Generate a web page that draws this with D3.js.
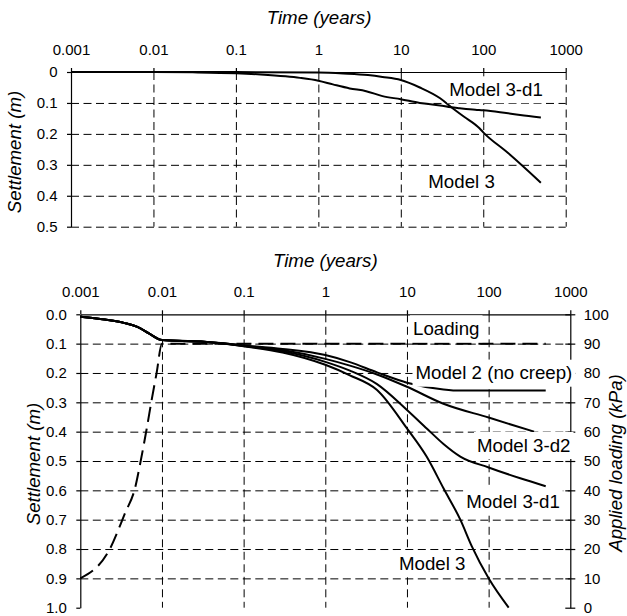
<!DOCTYPE html>
<html><head><meta charset="utf-8">
<script src="https://cdn.jsdelivr.net/npm/d3@7"></script>
<style>
body{margin:0;background:#fff}
svg{display:block;background:#fff}
text{font-family:"Liberation Sans",Arial,Helvetica,sans-serif;fill:#000}
</style>
</head><body>
<svg id="c" width="627" height="616"></svg>
<script>
// ---------- data ----------
const timeTicks = [0.001, 0.01, 0.1, 1, 10, 100, 1000];
const timeLabels = ["0.001", "0.01", "0.1", "1", "10", "100", "1000"];
const topSettleTicks = [0, 0.1, 0.2, 0.3, 0.4, 0.5];
const topSettleLabels = ["0", "0.1", "0.2", "0.3", "0.4", "0.5"];
const botSettleTicks = [0, 0.1, 0.2, 0.3, 0.4, 0.5, 0.6, 0.7, 0.8, 0.9, 1.0];
const botSettleLabels = ["0.0","0.1","0.2","0.3","0.4","0.5","0.6","0.7","0.8","0.9","1.0"];
const loadTicks = [0, 10, 20, 30, 40, 50, 60, 70, 80, 90, 100];

// top chart series
const top3d1T = [0.001, 0.01, 0.03, 0.1, 0.2, 0.4, 0.6, 1, 1.5, 2.4, 3.8, 6, 10, 17, 30, 41, 52, 80, 100, 160, 280, 500];
const top3d1S = [0, 0, 0.001, 0.004, 0.008, 0.014, 0.019, 0.028, 0.04, 0.053, 0.062, 0.078, 0.088, 0.1, 0.108, 0.114, 0.117, 0.122, 0.124, 0.13, 0.139, 0.147];
const top3T = [0.001, 0.1, 1, 2, 4, 6, 10, 17, 30, 41, 58, 90, 100, 200, 500];
const top3S = [0, 0, 0.002, 0.005, 0.01, 0.016, 0.026, 0.05, 0.085, 0.114, 0.144, 0.182, 0.195, 0.262, 0.358];

// bottom chart series
const loadT = [0.001, 0.0023, 0.0035, 0.0047, 0.0054, 0.0065, 0.0075, 0.0086, 0.01, 500];
const loadKPa = [10, 20, 32, 41, 49, 61, 71, 80, 90, 90];
const earlyT = [0.001, 0.002, 0.0035, 0.005, 0.007, 0.01];
const earlyS = [0.008, 0.018, 0.03, 0.043, 0.066, 0.088];
const m2T = [0.03, 0.1, 0.3, 1, 2, 4.3, 10, 28, 45, 500];
const m2S = [0.093, 0.106, 0.118, 0.139, 0.163, 0.198, 0.233, 0.256, 0.26, 0.26];
const m3d2T = [0.03, 0.1, 0.3, 1, 2, 4.3, 10, 28, 100, 360];
const m3d2S = [0.093, 0.107, 0.122, 0.152, 0.175, 0.205, 0.247, 0.305, 0.352, 0.4];
const m3d1T = [0.03, 0.1, 0.3, 1, 2, 4.3, 10, 17.6, 28, 45, 100, 244, 500];
const m3d1S = [0.093, 0.108, 0.126, 0.162, 0.192, 0.238, 0.326, 0.39, 0.442, 0.485, 0.522, 0.559, 0.586];
const m3T = [0.03, 0.1, 0.3, 1, 2, 4.3, 10, 17.4, 28, 45, 62.5, 100, 176];
const m3S = [0.093, 0.109, 0.13, 0.172, 0.208, 0.258, 0.389, 0.485, 0.593, 0.7, 0.792, 0.9, 1.0];

// ---------- drawing ----------
const svg = d3.select("#c");
const FONT = '"Liberation Sans",Arial,Helvetica,sans-serif';
const TICKFS = 15, LABFS = 18.7;

function zip(a, b) { return a.map((v, i) => [v, b[i]]); }

function styleAxis(g) {
  g.attr("font-family", FONT).attr("font-size", TICKFS);
  g.selectAll("text").attr("fill", "#000");
  g.selectAll("line,path").attr("stroke", "#000");
}

function grid(g) {
  g.select(".domain").remove();
  g.selectAll("text").remove();
  g.selectAll("line").attr("stroke", "#000").attr("stroke-width", 1).attr("stroke-dasharray", "8,4.5");
}

function addLabel(g, txt, x, cy, pad) {
  const t = g.append("text").attr("x", x).attr("y", cy).attr("dy", "0.35em")
    .attr("font-size", LABFS).text(txt);
  const w = t.node().getComputedTextLength();
  g.insert("rect", function () { return t.node(); })
    .attr("x", x - pad).attr("y", cy - 13).attr("width", w + 2 * pad).attr("height", 27)
    .attr("fill", "#fff");
}

function axisTitle(x, y, rot, txt) {
  svg.append("text").attr("transform", `translate(${x},${y}) rotate(${rot})`)
    .attr("text-anchor", "middle").attr("font-size", LABFS).attr("font-style", "italic").text(txt);
}

// ===== TOP CHART =====
(function () {
  const x = d3.scaleLog().domain([0.001, 1000]).range([71, 565.7]);
  const y = d3.scaleLinear().domain([0, 0.5]).range([72, 226.7]);
  const g = svg.append("g");
  g.append("g").attr("transform", `translate(0,${y(0)})`)
    .call(d3.axisTop(x).tickValues(timeTicks.slice(1)).tickSize(-(y(0.5) - y(0))).tickSizeOuter(0))
    .call(grid);
  g.append("g").attr("transform", `translate(${x(0.001)},0)`)
    .call(d3.axisLeft(y).tickValues(topSettleTicks.slice(1)).tickSize(-(x(1000) - x(0.001))).tickSizeOuter(0))
    .call(grid);
  g.append("g").attr("transform", `translate(0,${y(0)})`)
    .call(d3.axisTop(x).tickValues(timeTicks).tickSize(4).tickPadding(13).tickSizeOuter(0)
      .tickFormat((d, i) => timeLabels[i]))
    .call(styleAxis).selectAll("path,line").attr("stroke-width", 1.2);
  g.append("g").attr("transform", `translate(${x(0.001)},0)`)
    .call(d3.axisLeft(y).tickValues(topSettleTicks).tickSize(4).tickPadding(9.5).tickSizeOuter(0)
      .tickFormat((d, i) => topSettleLabels[i]))
    .call(styleAxis).selectAll("path,line").attr("stroke-width", 1.2);
  const line = d3.line().x(d => x(d[0])).y(d => y(d[1])).curve(d3.curveMonotoneX);
  [zip(top3d1T, top3d1S), zip(top3T, top3S)].forEach(dat => {
    g.append("path").datum(dat).attr("d", line).attr("fill", "none")
      .attr("stroke", "#000").attr("stroke-width", 2);
  });
  addLabel(g, "Model 3-d1", 449.3, 89.3, 2);
  addLabel(g, "Model 3", 428.3, 181.7, 2);
})();

axisTitle(319, 24, 0, "Time (years)");
axisTitle(21, 152, -90, "Settlement (m)");

// ===== BOTTOM CHART =====
(function () {
  const x = d3.scaleLog().domain([0.001, 1000]).range([80.3, 570.3]);
  const y = d3.scaleLinear().domain([0, 1]).range([314.3, 607.7]);
  const yR = d3.scaleLinear().domain([0, 100]).range([607.7, 314.3]);
  const g = svg.append("g");
  g.append("g").attr("transform", `translate(0,${y(0)})`)
    .call(d3.axisTop(x).tickValues(timeTicks.slice(1, 6)).tickSize(-(y(1) - y(0))).tickSizeOuter(0))
    .call(grid);
  g.append("g").attr("transform", `translate(${x(0.001)},0)`)
    .call(d3.axisLeft(y).tickValues(botSettleTicks.slice(1, 10)).tickSize(-(x(1000) - x(0.001))).tickSizeOuter(0))
    .call(grid);
  g.append("g").attr("transform", `translate(0,${y(0)})`)
    .call(d3.axisTop(x).tickValues(timeTicks).tickSize(4).tickPadding(13).tickSizeOuter(0)
      .tickFormat((d, i) => timeLabels[i]))
    .call(styleAxis).selectAll("path,line").attr("stroke-width", 1.2);
  g.append("g").attr("transform", `translate(${x(0.001)},0)`)
    .call(d3.axisLeft(y).tickValues(botSettleTicks).tickSize(4).tickPadding(9.5).tickSizeOuter(0)
      .tickFormat((d, i) => botSettleLabels[i]))
    .call(styleAxis).selectAll("path,line").attr("stroke-width", 1.2);
  const ra = g.append("g").attr("transform", `translate(${x(1000)},0)`)
    .call(d3.axisRight(yR).tickValues(loadTicks).tickSize(5).tickPadding(8.4).tickSizeOuter(0))
    .call(styleAxis);
  ra.selectAll(".tick line").attr("x1", -5);
  ra.selectAll("path,line").attr("stroke-width", 1.2);
  const line = d3.line().x(d => x(d[0])).y(d => y(d[1])).curve(d3.curveMonotoneX);
  [[m2T, m2S], [m3d2T, m3d2S], [m3d1T, m3d1S], [m3T, m3S]].forEach(([t, s]) => {
    g.append("path").datum(zip(earlyT.concat(t), earlyS.concat(s))).attr("d", line)
      .attr("fill", "none").attr("stroke", "#000").attr("stroke-width", 2);
  });
  const lline = d3.line().x(d => x(d[0])).y(d => yR(d[1])).curve(d3.curveMonotoneX);
  g.append("path").datum(zip(loadT, loadKPa)).attr("d", lline).attr("fill", "none")
    .attr("stroke", "#000").attr("stroke-width", 2).attr("stroke-dasharray", "15,7");
  addLabel(g, "Loading", 413, 328.3, 3);
  addLabel(g, "Model 2 (no creep)", 415.5, 372.7, 3);
  addLabel(g, "Model 3-d2", 477, 445, 3);
  addLabel(g, "Model 3-d1", 466.3, 501.7, 3);
  addLabel(g, "Model 3", 399, 563.3, 3);
})();

axisTitle(325.3, 267, 0, "Time (years)");
axisTitle(39.5, 464, -90, "Settlement (m)");
axisTitle(621.5, 463, -90, "Applied loading (kPa)");
</script>
</body></html>
